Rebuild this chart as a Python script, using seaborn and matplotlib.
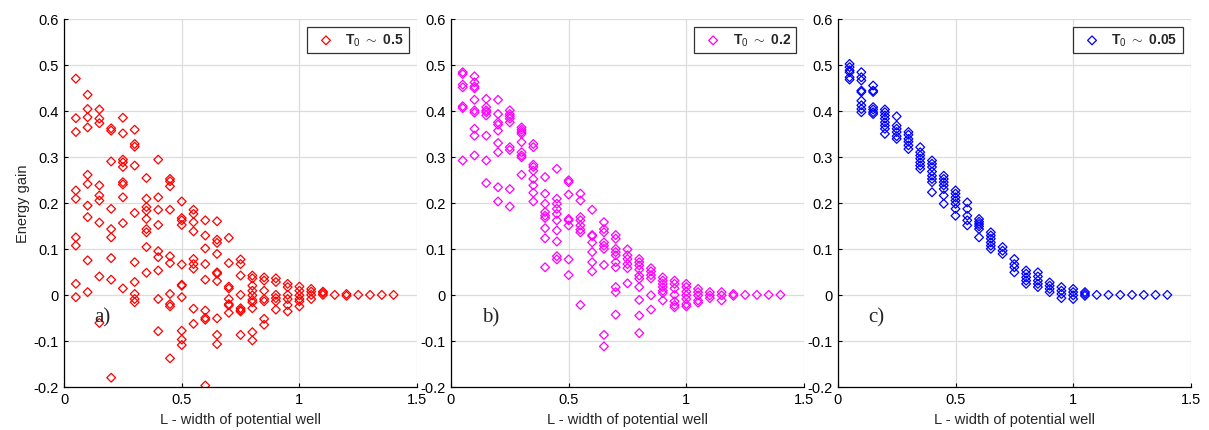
import numpy as np
import pandas as pd
import matplotlib
matplotlib.use("Agg")
import matplotlib.pyplot as plt
import seaborn as sns

# L values (width of potential well) for each column of points
L_a = [0.05, 0.10, 0.15, 0.20, 0.25, 0.30, 0.35, 0.40, 0.45, 0.50, 0.55, 0.60, 0.65, 0.70,
       0.75, 0.80, 0.85, 0.90, 0.95, 1.00, 1.05, 1.10, 1.15, 1.20, 1.25, 1.30, 1.35, 1.40]
L_b = L_a
L_c = L_a

# energy gain per column, panel a) T0 ~ 0.5
gain_a = [
    [0.47, 0.384, 0.354, 0.227, 0.209, 0.125, 0.107, 0.024, -0.005],
    [0.435, 0.404, 0.386, 0.364, 0.261, 0.241, 0.194, 0.169, 0.075, 0.006],
    [0.403, 0.383, 0.373, 0.238, 0.216, 0.205, 0.157, 0.04, -0.061],
    [0.362, 0.357, 0.29, 0.187, 0.143, 0.125, 0.08, 0.033, -0.18],
    [0.385, 0.351, 0.294, 0.288, 0.278, 0.245, 0.24, 0.212, 0.156, 0.014],
    [0.359, 0.328, 0.322, 0.281, 0.178, 0.071, 0.028, 0.002, -0.009, -0.016],
    [0.254, 0.209, 0.191, 0.183, 0.165, 0.143, 0.136, 0.104, 0.048],
    [0.294, 0.212, 0.185, 0.152, 0.095, 0.082, 0.053, -0.009, -0.079],
    [0.252, 0.247, 0.236, 0.185, 0.084, 0.069, 0.002, -0.02, -0.025, -0.138],
    [0.203, 0.167, 0.162, 0.152, 0.066, 0.022, 0.02, -0.005, -0.078, -0.097, -0.109],
    [0.185, 0.176, 0.158, 0.138, 0.078, 0.067, 0.057, -0.03, -0.063],
    [0.162, 0.129, 0.101, 0.067, 0.033, -0.034, -0.05, -0.054, -0.197],
    [0.16, 0.12, 0.113, 0.089, 0.049, 0.046, 0.03, -0.051, -0.087, -0.107],
    [0.124, 0.069, 0.018, 0.014, -0.009, -0.02, -0.023, -0.039],
    [0.077, 0.067, 0.042, 0.0, -0.029, -0.033, -0.036, -0.087],
    [0.042, 0.036, 0.02, 0.009, -0.001, -0.011, -0.016, -0.029, -0.081, -0.099],
    [0.038, 0.031, 0.009, -0.009, -0.014, -0.052, -0.065],
    [0.036, 0.028, 0.0, -0.007, -0.014, -0.032],
    [0.024, 0.017, 0.0, -0.009, -0.022, -0.036],
    [0.018, 0.009, -0.001, -0.009, -0.014, -0.025],
    [0.013, 0.007, 0.0, -0.009],
    [0.007, 0.004, 0.0],
    [0.0], [0.002, -0.002], [0.0], [0.0], [0.0], [0.0],
]

# panel b) T0 ~ 0.2
gain_b = [
    [0.484, 0.48, 0.457, 0.451, 0.41, 0.406, 0.292],
    [0.475, 0.462, 0.453, 0.449, 0.424, 0.401, 0.396, 0.361, 0.346, 0.303],
    [0.426, 0.408, 0.401, 0.397, 0.39, 0.346, 0.292, 0.243],
    [0.424, 0.393, 0.375, 0.37, 0.357, 0.33, 0.31, 0.234, 0.203],
    [0.401, 0.393, 0.388, 0.383, 0.375, 0.321, 0.315, 0.23, 0.192],
    [0.364, 0.359, 0.354, 0.35, 0.332, 0.31, 0.303, 0.299, 0.261],
    [0.328, 0.321, 0.283, 0.278, 0.27, 0.252, 0.238, 0.222, 0.203],
    [0.256, 0.22, 0.198, 0.18, 0.172, 0.167, 0.145, 0.123, 0.06],
    [0.274, 0.209, 0.198, 0.187, 0.176, 0.162, 0.14, 0.116, 0.084, 0.077],
    [0.249, 0.245, 0.218, 0.165, 0.162, 0.151, 0.077, 0.043],
    [0.22, 0.205, 0.169, 0.162, 0.151, 0.142, 0.136, -0.022],
    [0.185, 0.13, 0.128, 0.114, 0.093, 0.071, 0.051],
    [0.158, 0.143, 0.136, 0.114, 0.107, 0.1, 0.065, -0.087, -0.112],
    [0.13, 0.122, 0.1, 0.093, 0.086, 0.071, 0.06, 0.017, 0.006, -0.043],
    [0.099, 0.086, 0.078, 0.067, 0.058, 0.025],
    [0.078, 0.071, 0.064, 0.055, 0.042, 0.035, 0.017, -0.011, -0.045, -0.083],
    [0.058, 0.051, 0.043, 0.036, -0.001, -0.032],
    [0.038, 0.031, 0.024, 0.017, 0.009, 0.004, -0.012],
    [0.031, 0.024, 0.014, 0.0, -0.014, -0.022, -0.027],
    [0.024, 0.017, 0.007, -0.001, -0.009, -0.02, -0.025],
    [0.013, 0.006, -0.001, -0.012, -0.017],
    [0.006, -0.001, -0.007],
    [0.006, -0.001, -0.012],
    [0.002, -0.002], [0.0], [0.0], [0.0], [0.0],
]

# panel c) T0 ~ 0.05
gain_c = [
    [0.502, 0.495, 0.488, 0.484, 0.473, 0.468],
    [0.484, 0.473, 0.466, 0.444, 0.441, 0.422, 0.412, 0.404, 0.397],
    [0.455, 0.444, 0.441, 0.408, 0.403, 0.397, 0.393],
    [0.403, 0.397, 0.39, 0.383, 0.375, 0.368, 0.361, 0.35],
    [0.388, 0.368, 0.361, 0.354, 0.345, 0.339],
    [0.354, 0.348, 0.339, 0.333, 0.325, 0.317],
    [0.321, 0.31, 0.303, 0.296, 0.288, 0.281, 0.274],
    [0.292, 0.285, 0.278, 0.268, 0.259, 0.252, 0.245, 0.223],
    [0.259, 0.252, 0.245, 0.238, 0.23, 0.216, 0.198],
    [0.227, 0.22, 0.212, 0.205, 0.198, 0.187, 0.172],
    [0.201, 0.187, 0.172, 0.162, 0.151],
    [0.165, 0.159, 0.154, 0.149, 0.143, 0.125],
    [0.136, 0.129, 0.122, 0.114, 0.107, 0.1],
    [0.104, 0.096, 0.089],
    [0.078, 0.067, 0.06, 0.049],
    [0.053, 0.046, 0.038, 0.031, 0.024],
    [0.049, 0.04, 0.031, 0.024, 0.017],
    [0.027, 0.02, 0.013, 0.006],
    [0.017, 0.009, 0.002, -0.007],
    [0.013, 0.006, -0.001, -0.009],
    [0.006, 0.002, -0.002],
    [0.0], [0.0], [0.0], [0.0], [0.0], [0.0], [0.0],
]

panels = [
    (L_a, gain_a, "#ff0000", r"T$_0$ $\sim$ 0.5", "a)"),
    (L_b, gain_b, "#ff00ff", r"T$_0$ $\sim$ 0.2", "b)"),
    (L_c, gain_c, "#0000ff", r"T$_0$ $\sim$ 0.05", "c)"),
]


def to_frame(xs, ys):
    rows = [(x, y) for x, col in zip(xs, ys) for y in col]
    return pd.DataFrame(rows, columns=["L", "gain"])


sns.set_theme(style="whitegrid")
plt.rcParams["font.family"] = ["Liberation Sans", "DejaVu Sans"]
plt.rcParams["mathtext.fontset"] = "custom"
plt.rcParams["mathtext.rm"] = "Liberation Sans"
plt.rcParams["mathtext.it"] = "Liberation Sans"

fig = plt.figure(figsize=(12.09, 4.31), dpi=100)
lefts = [0.053, 0.373, 0.693]

for i, (xs, ys, color, label, tag) in enumerate(panels):
    ax = fig.add_axes([lefts[i], 0.10, 0.292, 0.854])
    df = to_frame(xs, ys)
    sns.scatterplot(data=df, x="L", y="gain", ax=ax, marker="D", s=20,
                    facecolor="none", edgecolor=color, linewidth=0.9,
                    label=label)
    ax.set_xlim(0, 1.5)
    ax.set_ylim(-0.2, 0.6)
    ax.set_xticks([0, 0.5, 1, 1.5])
    ax.set_xticklabels(["0", "0.5", "1", "1.5"])
    ax.set_yticks(np.arange(-0.2, 0.61, 0.1))
    ax.set_yticklabels(["-0.2", "-0.1", "0", "0.1", "0.2", "0.3", "0.4", "0.5", "0.6"])
    ax.grid(True, color="#dcdcdc", linewidth=0.9)
    for side in ["top", "right"]:
        ax.spines[side].set_visible(False)
    for side in ["left", "bottom"]:
        ax.spines[side].set_color("black")
        ax.spines[side].set_linewidth(0.9)
    ax.tick_params(direction="in", length=3, width=0.8, labelsize=10.5,
                   colors="black", pad=4, left=True, bottom=True)
    ax.set_xlabel("L - width of potential well", fontsize=10.5, labelpad=4)
    if i == 0:
        ax.set_ylabel("Energy gain", fontsize=10.5, labelpad=2)
    else:
        ax.set_ylabel("")
    ax.text(0.13, -0.048, tag, fontsize=15, family="Liberation Serif",
            va="center", ha="left")
    leg = ax.legend(loc="upper right", frameon=True, fancybox=False,
                    borderaxespad=0.6, handletextpad=0.4, borderpad=0.35,
                    prop={"size": 10, "weight": "bold"})
    leg.get_frame().set_edgecolor("black")
    leg.get_frame().set_linewidth(0.9)

fig.savefig("out.png", dpi=100)
